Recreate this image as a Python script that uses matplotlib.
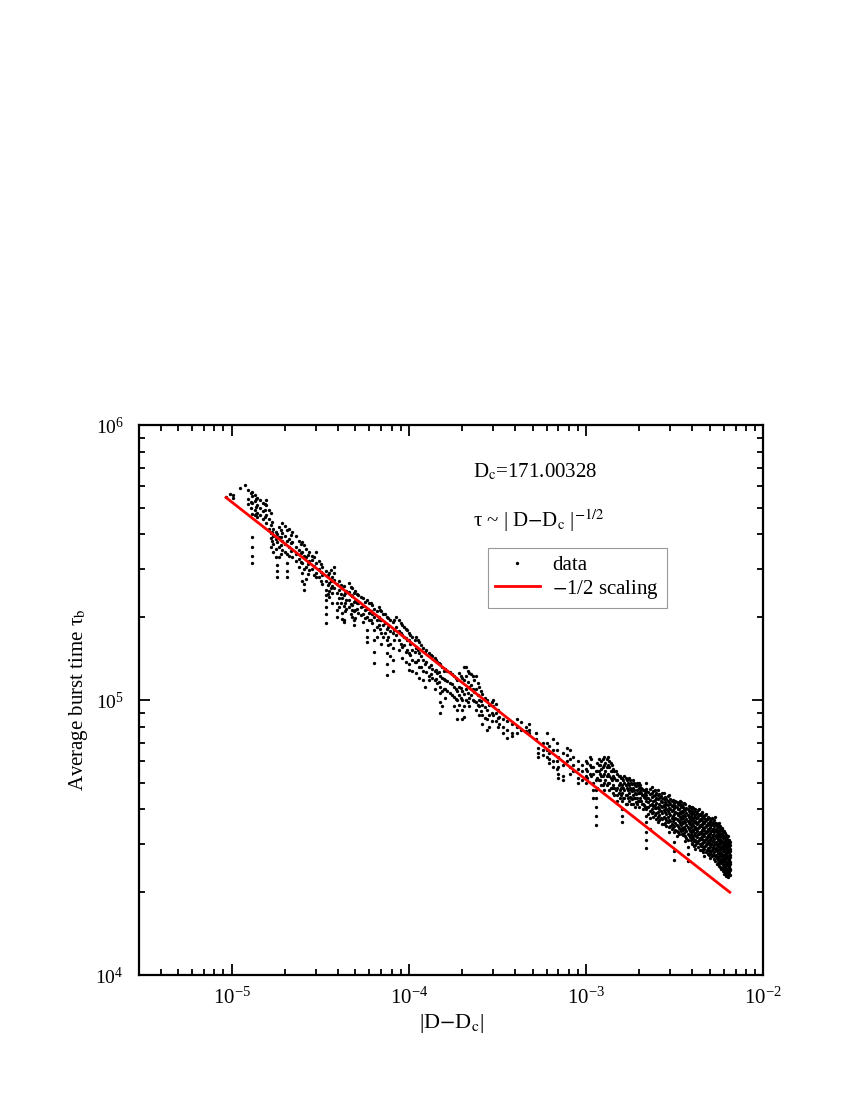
import numpy as np
import matplotlib
matplotlib.use("Agg")
import matplotlib.pyplot as plt
from matplotlib.ticker import LogLocator, NullFormatter

OUTPUT_PLOT = "out.png"

# |D - Dc| columns and the burst times read at each column (tau in units of 1e3)
# --- 1e-5 .. 1e-4
dD_low = [
    9.3e-6, 9.8e-6, 1.02e-5, 1.12e-5, 1.19e-5, 1.24e-5, 1.28e-5, 1.31e-5, 1.35e-5, 1.38e-5,
    1.40e-5, 1.45e-5, 1.50e-5, 1.54e-5, 1.57e-5, 1.62e-5, 1.67e-5, 1.70e-5, 1.72e-5, 1.78e-5,
    1.81e-5, 1.86e-5, 1.90e-5, 1.93e-5, 2.00e-5, 2.06e-5, 2.12e-5, 2.16e-5, 2.20e-5, 2.32e-5,
    2.40e-5, 2.45e-5, 2.50e-5, 2.58e-5, 2.64e-5, 2.70e-5, 2.75e-5, 2.86e-5, 2.93e-5, 3.00e-5,
    3.10e-5, 3.18e-5, 3.25e-5, 3.40e-5, 3.48e-5, 3.55e-5, 3.62e-5, 3.70e-5, 3.80e-5, 3.95e-5,
    4.05e-5, 4.12e-5, 4.20e-5, 4.30e-5, 4.38e-5, 4.45e-5, 4.60e-5, 4.70e-5, 4.80e-5, 4.90e-5,
    5.00e-5, 5.10e-5, 5.20e-5, 5.35e-5, 5.50e-5, 5.65e-5, 5.80e-5, 6.00e-5, 6.10e-5, 6.20e-5,
    6.40e-5, 6.60e-5, 6.80e-5, 6.90e-5, 7.00e-5, 7.20e-5, 7.35e-5, 7.50e-5, 7.65e-5, 7.80e-5,
    8.10e-5, 8.30e-5, 8.50e-5, 8.80e-5, 9.00e-5, 9.20e-5, 9.40e-5, 9.60e-5, 9.80e-5,
]
tau_low = [
    [549], [560], [557, 545], [590], [605],
    [580, 540, 515], [565, 525, 500], [570, 550, 520, 475, 392, 360, 335, 315], [555, 530, 490, 470], [538, 505, 476],
    [545, 510, 480, 462], [535, 500, 470], [520, 485, 455], [515, 490, 462], [533, 512, 470, 440],
    [490, 455, 420], [478, 433, 405, 388, 360], [445, 410, 380], [420, 395, 370, 345], [410, 385, 355, 330],
    [400, 375, 310, 295, 280], [425, 390, 360, 331], [415, 392, 366, 340], [440, 405, 380, 350], [430, 395, 370, 345],
    [415, 380, 340, 315, 295, 280], [420, 385, 360, 335], [398, 372, 348], [410, 375, 350, 330], [395, 360, 340, 320],
    [380, 350, 325, 305], [368, 342, 318], [375, 345, 315, 290, 270], [365, 335, 300, 265, 251], [355, 330, 305, 275],
    [338, 312, 288], [345, 320, 296], [335, 323, 300], [330, 308, 285], [345, 315, 290, 280],
    [320, 300, 280], [312, 292, 272], [304, 285, 265], [295, 270, 251, 240, 231, 218, 205, 191], [285, 262, 244],
    [290, 266, 250, 236], [296, 272, 255], [280, 260, 245, 225], [304, 290, 273, 255], [265, 245, 225, 212, 200],
    [270, 251, 235, 218], [262, 242, 226], [255, 235, 207, 197], [260, 240, 220, 195, 192], [246, 226, 210],
    [250, 232, 215], [266, 248, 231, 218], [258, 240, 224, 206], [255, 238, 222, 212, 200], [245, 228, 210, 195, 188],
    [250, 230, 212, 198], [242, 226, 214], [240, 225, 208], [236, 218, 204], [235, 220, 205, 192],
    [228, 212, 198], [231, 215, 200, 180, 170, 162], [225, 207, 195], [226, 210, 196], [221, 205, 190],
    [215, 200, 180, 165, 150, 136], [210, 195, 184, 170], [218, 200, 188], [212, 196, 182], [210, 195, 175, 160],
    [205, 188, 170], [205, 190, 176], [200, 182, 165, 148, 135, 123], [198, 184, 170, 158], [195, 178, 160, 145],
    [192, 175, 155, 140, 128], [196, 180, 166], [200, 185, 172], [195, 178, 165, 152], [190, 176, 160],
    [188, 172, 156, 142], [185, 170, 158], [182, 168, 150, 138], [180, 165, 152],
]

# --- 1e-4 .. 1e-3
dD_mid = [
    1.00e-4, 1.02e-4, 1.05e-4, 1.08e-4, 1.10e-4, 1.13e-4, 1.15e-4, 1.18e-4, 1.20e-4, 1.23e-4,
    1.26e-4, 1.30e-4, 1.33e-4, 1.35e-4, 1.40e-4, 1.42e-4, 1.45e-4, 1.48e-4, 1.50e-4, 1.55e-4,
    1.58e-4, 1.60e-4, 1.65e-4, 1.70e-4, 1.75e-4, 1.80e-4, 1.84e-4, 1.87e-4, 1.93e-4, 1.97e-4,
    2.00e-4, 2.05e-4, 2.10e-4, 2.15e-4, 2.20e-4, 2.25e-4, 2.30e-4, 2.35e-4, 2.40e-4, 2.45e-4,
    2.50e-4, 2.55e-4, 2.60e-4, 2.68e-4, 2.75e-4, 2.85e-4, 2.95e-4, 3.00e-4, 3.10e-4, 3.20e-4,
    3.25e-4, 3.40e-4, 3.60e-4, 3.85e-4, 4.10e-4, 4.30e-4, 4.60e-4, 4.80e-4, 5.20e-4, 5.40e-4,
    5.70e-4, 6.00e-4, 6.20e-4, 6.50e-4, 6.90e-4, 7.00e-4, 7.40e-4, 7.80e-4, 8.10e-4, 8.50e-4,
    9.00e-4, 9.50e-4,
]
tau_mid = [
    [176, 166, 148, 135, 129], [172, 160, 146], [170, 152, 140, 128], [165, 150, 137], [169, 155, 138, 125],
    [166, 152, 140], [162, 148, 132, 120], [158, 144, 132], [155, 140, 128, 118], [150, 135, 112],
    [152, 138, 126], [148, 132, 122, 118], [146, 134, 124], [145, 130, 120], [142, 128, 118, 110],
    [140, 129, 119], [138, 125, 115], [136, 126, 116], [135, 122, 112, 106, 98, 90], [132, 120, 108, 95],
    [128, 119, 110], [130, 118, 110, 102], [128, 117, 108], [126, 115, 106], [124, 114, 104],
    [122, 112, 103, 95], [120, 110, 101], [118, 108, 100, 92, 85], [125, 112, 104, 96], [122, 111, 102],
    [120, 108, 100, 92, 85], [132, 118, 105, 95, 87], [132, 122, 110, 100], [128, 116, 106, 98], [125, 112, 102, 95],
    [124, 113, 104], [122, 110, 100], [118, 107, 99], [122, 110, 98, 92], [115, 104, 96],
    [112, 100, 95, 88], [108, 99, 91], [105, 96, 88, 82], [102, 94, 86], [100, 92, 85, 78],
    [96, 88, 80], [98, 90, 84], [100, 95, 88], [97, 90, 84], [92, 86, 80],
    [87, 82], [85, 80, 76], [84, 78, 73], [82, 76, 74], [85, 80, 76],
    [83, 78], [80, 77], [82, 78, 76], [76, 72], [67, 64, 62],
    [70, 66, 63], [76, 70, 66, 62], [68, 64, 61, 59], [72, 66, 60, 57], [70, 66, 60, 56],
    [62, 57, 54, 52], [64, 58, 53, 51], [67, 63, 60], [66, 61, 57, 54], [62, 58, 55],
    [60, 56, 52, 50], [58, 55, 51],
]

# --- 1e-3 .. 2.2e-3
dD_high = [
    1.00e-3, 1.02e-3, 1.05e-3, 1.07e-3, 1.10e-3, 1.14e-3, 1.16e-3, 1.18e-3, 1.20e-3, 1.22e-3,
    1.25e-3, 1.27e-3, 1.29e-3, 1.31e-3, 1.33e-3, 1.36e-3, 1.38e-3, 1.40e-3, 1.43e-3, 1.45e-3,
    1.48e-3, 1.50e-3, 1.53e-3, 1.55e-3, 1.58e-3, 1.60e-3, 1.63e-3, 1.65e-3, 1.68e-3, 1.70e-3,
    1.73e-3, 1.75e-3, 1.78e-3, 1.80e-3, 1.83e-3, 1.85e-3, 1.88e-3, 1.90e-3, 1.93e-3, 1.95e-3,
    1.98e-3, 2.00e-3, 2.03e-3, 2.05e-3, 2.08e-3, 2.10e-3, 2.13e-3, 2.15e-3, 2.18e-3,
]
tau_high = [
    [60, 56, 53, 50], [59, 55, 52], [62, 58, 54], [61, 57, 53], [57, 54, 50, 47, 44],
    [55, 51, 47, 44, 41, 38, 35], [59, 55, 52, 48], [61, 58, 55, 51], [58, 54, 51], [60, 56, 53, 49],
    [61, 57, 53, 49], [62, 58, 54, 50, 47], [59, 55, 51], [61, 57, 53, 49], [62, 58, 54, 50],
    [60, 57, 53, 50, 47], [59, 55, 52, 48], [58, 55, 51, 48], [56, 53, 49, 46], [55, 52, 48, 45],
    [55, 51, 47], [54, 51, 48, 45, 43], [53, 49, 46], [53, 50, 47, 44], [52, 48, 45],
    [52, 49, 46, 43, 40, 38, 36], [51, 48, 44], [53, 50, 47, 44], [52, 49, 45, 42], [51, 48, 45, 42],
    [50, 47, 44], [52, 49, 46, 43], [51, 48, 44.5], [50, 47, 44, 42], [49.5, 46.5, 43.5],
    [51, 48, 45, 42], [50, 47, 44], [49, 46, 44, 41], [48.5, 45.5, 42.5], [50, 47, 44, 42],
    [49, 46, 43], [50, 48, 46, 43, 41], [49, 46.5, 44], [48, 46, 43], [47.5, 45, 42],
    [47, 45, 42, 40], [47, 44.5, 41.5], [46, 44, 41], [46.5, 44, 41],
]

# --- 2.2e-3 .. 6.6e-3 (dense tail)
dD_tail = [
    2.20e-3, 2.25e-3, 2.30e-3, 2.35e-3, 2.40e-3, 2.45e-3, 2.50e-3, 2.55e-3, 2.60e-3, 2.65e-3,
    2.70e-3, 2.75e-3, 2.80e-3, 2.85e-3, 2.90e-3, 2.95e-3, 3.00e-3, 3.05e-3, 3.10e-3, 3.15e-3,
    3.20e-3, 3.25e-3, 3.30e-3, 3.35e-3, 3.40e-3, 3.45e-3, 3.50e-3, 3.55e-3, 3.60e-3, 3.65e-3,
    3.70e-3, 3.75e-3, 3.80e-3, 3.85e-3, 3.90e-3, 3.95e-3, 4.00e-3, 4.05e-3, 4.10e-3, 4.15e-3,
    4.20e-3, 4.25e-3, 4.30e-3, 4.35e-3, 4.40e-3, 4.45e-3, 4.50e-3, 4.55e-3, 4.60e-3, 4.65e-3,
    4.70e-3, 4.75e-3, 4.80e-3, 4.85e-3, 4.90e-3, 4.95e-3, 5.00e-3, 5.05e-3, 5.10e-3, 5.15e-3,
    5.20e-3, 5.25e-3, 5.30e-3, 5.35e-3, 5.40e-3, 5.45e-3, 5.50e-3, 5.55e-3, 5.60e-3, 5.65e-3,
    5.70e-3, 5.75e-3, 5.80e-3, 5.85e-3, 5.90e-3, 5.95e-3, 6.00e-3, 6.05e-3, 6.10e-3, 6.15e-3,
    6.20e-3, 6.25e-3, 6.30e-3, 6.35e-3, 6.40e-3, 6.45e-3, 6.50e-3, 6.55e-3,
]
tau_tail = [
    [50, 47.5, 45.2, 43.1, 40.2, 38.0, 36, 33, 31, 29], [46.4, 44.1, 42.6, 40.7, 38.6],
    [47.3, 45.6, 43.2, 41.5, 39.4, 37.1, 34], [48.1, 45.9, 44.3, 42.0, 40.1, 38.8],
    [46.6, 44.7, 42.9, 41.2, 39.0, 37.6], [47.0, 45.1, 43.4, 41.6, 40.4, 38.2],
    [45.8, 44.0, 42.2, 40.6, 38.9, 36.8], [47.2, 45.3, 43.6, 41.0, 39.3, 37.7, 36.0],
    [45.5, 43.9, 41.8, 40.2, 38.1, 36.6], [44.8, 42.9, 41.3, 39.6, 37.4],
    [46.1, 44.2, 42.5, 40.8, 38.7, 36.9, 35.3], [45.9, 43.5, 41.7, 39.8, 37.5, 35.4],
    [44.4, 42.6, 40.9, 39.2, 37.2, 35.8], [43.8, 42.0, 40.3, 38.4, 36.5, 34.9],
    [44.9, 43.1, 41.4, 39.5, 37.6, 36.1], [45.2, 42.7, 40.6, 38.8, 36.7, 34.5, 33.0],
    [43.6, 41.9, 40.0, 38.3, 36.4, 34.8], [42.8, 41.1, 39.4, 37.3, 35.5, 33.9],
    [43.3, 41.6, 39.7, 38.0, 36.2, 34.4], [42.4, 40.5, 38.6, 36.8, 34.9, 33.1, 30.4, 28.2, 26.3],
    [43.0, 41.2, 39.1, 37.4, 35.6, 33.7], [42.6, 40.8, 38.9, 37.0, 35.1, 33.4, 32.0],
    [41.9, 40.1, 38.3, 36.6, 34.7, 33.0], [42.2, 40.3, 38.5, 36.3, 34.2, 32.6],
    [43.1, 41.4, 39.3, 37.5, 35.8, 33.9], [42.7, 40.7, 38.8, 36.9, 35.0, 33.3],
    [41.5, 39.6, 37.8, 36.0, 34.3, 32.5], [41.0, 39.2, 37.3, 35.6, 33.8, 32.2],
    [42.1, 40.0, 38.1, 36.4, 34.6, 32.8], [41.8, 39.8, 37.9, 35.9, 34.0, 32.1, 30.8],
    [40.6, 38.7, 36.8, 35.2, 33.5, 31.6], [40.2, 38.2, 36.3, 34.5, 32.7, 30.9, 29.1, 27.6, 26.0],
    [41.3, 39.5, 37.6, 35.7, 33.9, 32.3], [40.9, 38.9, 37.0, 35.3, 33.4, 31.8],
    [39.8, 38.0, 36.2, 34.4, 32.6, 31.0], [40.4, 38.5, 36.7, 34.8, 33.1, 31.3, 30.0],
    [41.0, 39.1, 37.2, 35.5, 33.6, 31.9, 30.3], [40.6, 38.8, 36.9, 35.0, 33.3, 31.5],
    [39.5, 37.7, 35.9, 34.1, 32.4, 30.7, 29.4], [40.1, 38.3, 36.4, 34.6, 32.8, 31.1, 29.6, 28.8],
    [39.2, 37.4, 35.6, 33.9, 32.1, 30.5], [38.9, 37.1, 35.3, 33.5, 31.8, 30.2],
    [39.7, 37.9, 36.0, 34.3, 32.5, 30.8, 29.3], [40.0, 38.1, 36.2, 34.5, 32.7, 31.0],
    [38.6, 36.8, 35.0, 33.2, 31.5, 29.9, 28.6], [38.2, 36.5, 34.7, 32.9, 31.2, 29.5],
    [38.9, 37.0, 35.2, 33.4, 31.7, 30.0, 28.4], [39.1, 37.2, 35.4, 33.7, 31.9, 30.1],
    [37.8, 36.0, 34.3, 32.6, 30.9, 29.2, 27.9], [37.3, 35.6, 33.8, 32.0, 30.4, 28.7, 27.2],
    [38.1, 36.3, 34.5, 32.8, 31.1, 29.4], [38.4, 36.6, 34.8, 33.0, 31.3, 29.6, 28.1],
    [37.0, 35.2, 33.5, 31.8, 30.1, 28.5], [36.8, 35.0, 33.2, 31.5, 29.9, 28.3],
    [37.6, 35.8, 34.0, 32.3, 30.6, 29.0, 27.6], [37.4, 35.5, 33.7, 32.0, 30.3, 28.6, 27.3],
    [36.4, 34.6, 32.9, 31.2, 29.6, 28.0], [36.0, 34.2, 32.5, 30.8, 29.1, 27.5, 26.6],
    [36.9, 35.1, 33.3, 31.6, 29.9, 28.3], [37.1, 35.3, 33.4, 31.7, 30.0, 28.4, 27.0],
    [35.7, 34.0, 32.3, 30.6, 29.0, 27.4], [35.9, 34.1, 32.4, 30.7, 29.1, 27.6],
    [36.6, 34.8, 33.0, 31.3, 29.6, 28.0, 26.5], [37.5, 35.6, 33.8, 32.0, 30.3, 28.7, 27.1, 26.0],
    [35.3, 33.6, 31.9, 30.2, 28.6, 27.0], [35.8, 34.0, 32.2, 30.5, 28.9, 27.3],
    [34.9, 33.2, 31.5, 29.8, 28.2, 26.7, 25.4], [35.2, 33.4, 31.7, 30.0, 28.4, 26.8, 25.6],
    [34.4, 32.7, 31.0, 29.4, 27.8, 26.3], [35.6, 33.8, 32.0, 30.3, 28.7, 27.1, 25.6, 24.9],
    [34.1, 32.4, 30.7, 29.1, 27.5, 26.0, 24.8], [34.7, 32.9, 31.2, 29.5, 27.9, 26.4],
    [33.6, 31.9, 30.3, 28.7, 27.1, 25.6, 24.3], [33.9, 32.2, 30.5, 28.9, 27.3, 25.8, 24.2],
    [34.3, 32.5, 30.8, 29.2, 27.6, 26.1, 24.6], [33.0, 31.4, 29.8, 28.2, 26.7, 25.2, 23.9],
    [33.4, 31.7, 30.0, 28.4, 26.9, 25.3, 24.0], [32.1, 30.5, 28.9, 27.4, 25.9, 24.5, 23.4],
    [32.8, 31.1, 29.5, 27.9, 26.4, 24.9, 23.6], [32.3, 30.7, 29.1, 27.5, 26.0, 24.6, 23.3],
    [31.6, 30.0, 28.4, 26.9, 25.4, 24.0, 23.0], [31.2, 29.6, 28.1, 26.6, 25.1, 23.7, 22.9],
    [32.0, 30.3, 28.7, 27.2, 25.7, 24.2, 23.1], [31.9, 30.2, 28.6, 27.0, 25.5, 24.1, 22.7],
    [31.0, 29.4, 27.9, 26.4, 24.9, 23.6], [30.8, 29.3, 27.7, 26.2, 24.8, 23.4],
    [30.4, 28.8, 27.3, 25.8, 24.4, 23.2], [29.8, 28.3, 26.8, 25.3, 24.0],
]

# end points of the -1/2 scaling line
fit_x = [9.3e-6, 6.5e-3]
fit_y = [5.45e5, 2.0e4]


def _flatten(x_cols, tau_cols):
    assert len(x_cols) == len(tau_cols), (len(x_cols), len(tau_cols))
    xs = np.repeat(x_cols, [len(c) for c in tau_cols])
    ys = np.concatenate([np.array(c, dtype=float) for c in tau_cols]) * 1e3
    return xs, ys


def main():
    plt.rcParams["font.family"] = ["Liberation Serif", "DejaVu Serif"]
    plt.rcParams["mathtext.fontset"] = "stix"

    parts = [_flatten(dD_low, tau_low), _flatten(dD_mid, tau_mid),
             _flatten(dD_high, tau_high), _flatten(dD_tail, tau_tail)]
    x_pts = np.concatenate([p[0] for p in parts])
    y_pts = np.concatenate([p[1] for p in parts])

    fig = plt.figure(figsize=(8.5, 11), dpi=100)
    ax = fig.add_axes([0.1635, 0.1136, 0.7341, 0.5])

    ax.plot(x_pts, y_pts, linestyle="none", marker="o", markersize=2.4,
            color="black", markeredgewidth=0, label="data")
    ax.plot(fit_x, fit_y, color="#ff0000", linewidth=2.0, label=r"$-$1/2 scaling")

    ax.set_xscale("log")
    ax.set_yscale("log")
    ax.set_xlim(3e-6, 1e-2)
    ax.set_ylim(1e4, 1e6)

    ax.xaxis.set_major_locator(LogLocator(base=10, numticks=10))
    ax.xaxis.set_minor_locator(LogLocator(base=10, subs=np.arange(2, 10), numticks=20))
    ax.xaxis.set_minor_formatter(NullFormatter())
    ax.yaxis.set_minor_formatter(NullFormatter())

    ax.tick_params(which="both", direction="in", top=True, right=True, width=1.3)
    ax.tick_params(which="major", length=8)
    ax.tick_params(which="minor", length=4)
    ax.tick_params(axis="x", which="major", pad=9, labelsize=15)
    ax.tick_params(axis="y", which="major", pad=11, labelsize=14)
    for spine in ax.spines.values():
        spine.set_linewidth(1.6)

    ax.set_xlabel(r"|D$-$D$_{\rm c}$|", fontsize=16)
    ax.set_ylabel(r"Average burst time τ$_{\rm b}$", fontsize=15)
    ax.xaxis.set_label_coords(0.5, -0.068)
    ax.yaxis.set_label_coords(-0.079, 0.5)

    ax.text(0.536, 0.905, r"D$_{\rm c}$=171.00328", transform=ax.transAxes, fontsize=15)
    ax.text(0.536, 0.815, r"τ ~ | D$-$D$_{\rm c}$ |$^{-1/2}$", transform=ax.transAxes, fontsize=15)

    leg = ax.legend(loc="upper left", bbox_to_anchor=(0.559, 0.776), borderaxespad=0,
                    fontsize=15, frameon=True, fancybox=False, edgecolor="#808080",
                    handlelength=2.15, handletextpad=0.6, borderpad=0.35,
                    labelspacing=0.12, markerscale=1.0)
    leg.get_frame().set_linewidth(0.8)

    fig.savefig(OUTPUT_PLOT, dpi=100)


if __name__ == "__main__":
    main()
